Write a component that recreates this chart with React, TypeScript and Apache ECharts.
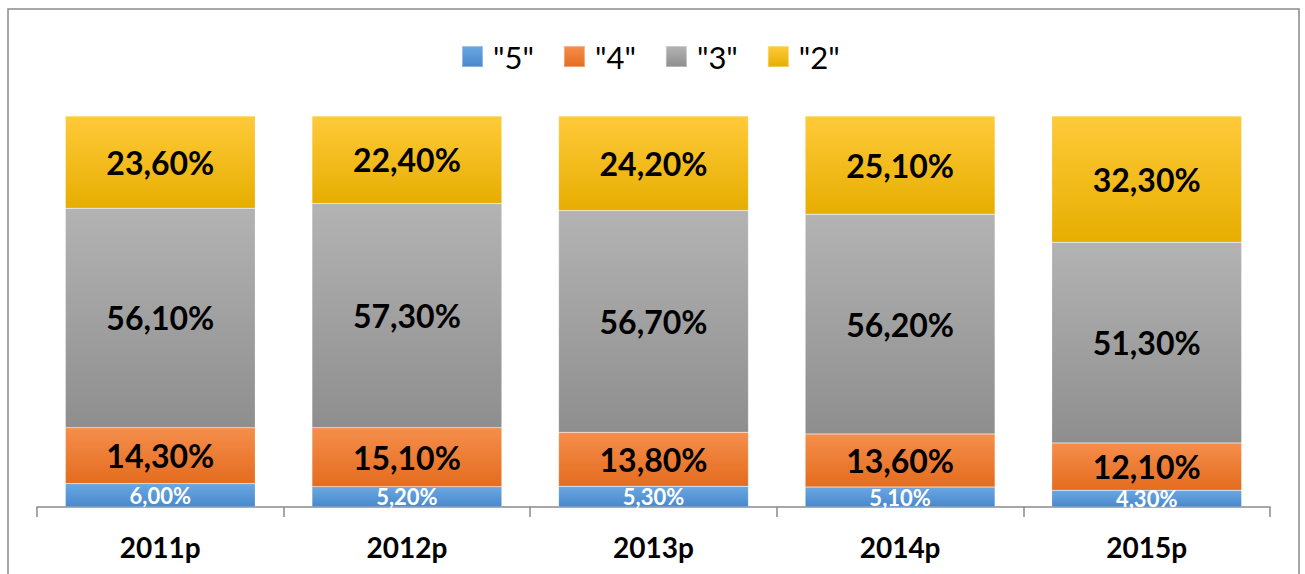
import React, { useEffect, useRef } from "react";
import * as echarts from "echarts";

const categories = ["2011p", "2012p", "2013p", "2014p", "2015p"];
const seriesNames = ['"5"', '"4"', '"3"', '"2"'];
const grade5 = [6.0, 5.2, 5.3, 5.1, 4.3];
const grade4 = [14.3, 15.1, 13.8, 13.6, 12.1];
const grade3 = [56.1, 57.3, 56.7, 56.2, 51.3];
const grade2 = [23.6, 22.4, 24.2, 25.1, 32.3];

const FONT = "Lato, 'Noto Sans', sans-serif";

const grad = (top: string, bottom: string) =>
  new echarts.graphic.LinearGradient(0, 0, 0, 1, [
    { offset: 0, color: top },
    { offset: 1, color: bottom },
  ]);

const fmt = (v: number) => v.toFixed(2).replace(".", ",") + "%";

export default function App() {
  const ref = useRef<HTMLDivElement>(null);
  useEffect(() => {
    document.body.style.margin = "0";
    if (!ref.current) return;
    const chart = echarts.init(ref.current, null, { renderer: "svg" });
    const colors = [
      ["#6aa7e2", "#4888cc"],
      ["#f58e4c", "#e46c1e"],
      ["#b3b3b3", "#8e8e8e"],
      ["#ffca3a", "#e6ae00"],
    ];
    const data = [grade5, grade4, grade3, grade2];
    chart.setOption({
      animation: false,
      backgroundColor: "#ffffff",
      legend: {
        top: 36,
        left: 456,
        padding: 5,
        itemWidth: 21,
        itemHeight: 21,
        itemGap: 29,
        icon: "rect",
        data: seriesNames,
        textStyle: {
          fontFamily: FONT,
          fontSize: 31,
          color: "#000",
          width: 47,
          padding: [0, 0, 0, 5],
        },
      },
      graphic: [
        {
          type: "rect",
          shape: { x: 8, y: 9, width: 1291, height: 620 },
          style: { fill: "none", stroke: "#8a8a8a", lineWidth: 1.5 },
          silent: true,
        },
      ],
      grid: { left: 37, right: 35, top: 116, bottom: 67 },
      xAxis: {
        type: "category",
        data: categories,
        axisLine: { lineStyle: { color: "#8a8a8a", width: 1.5 } },
        axisTick: { show: true, length: 10, lineStyle: { color: "#8a8a8a", width: 1.5 } },
        axisLabel: {
          margin: 26,
          fontFamily: FONT,
          fontWeight: "bold",
          fontSize: 28,
          color: "#000",
        },
      },
      yAxis: {
        type: "value",
        min: 0,
        max: 100,
        show: false,
        splitLine: { show: false },
      },
      series: seriesNames.map((name, i) => ({
        name,
        type: "bar",
        stack: "total",
        barWidth: "77%",
        data: data[i],
        itemStyle: {
          color: grad(colors[i][0], colors[i][1]),
          borderColor: "rgba(255,255,255,0.35)",
          borderWidth: 0.5,
        },
        label: {
          show: true,
          position: "inside",
          formatter: (p: any) => fmt(p.value),
          fontFamily: FONT,
          fontWeight: "bold",
          fontSize: i === 0 ? 22 : 32,
          color: i === 0 ? "#ffffff" : "#000000",
        },
      })),
    });
    return () => chart.dispose();
  }, []);
  return <div ref={ref} style={{ width: 1305, height: 574 }} />;
}
